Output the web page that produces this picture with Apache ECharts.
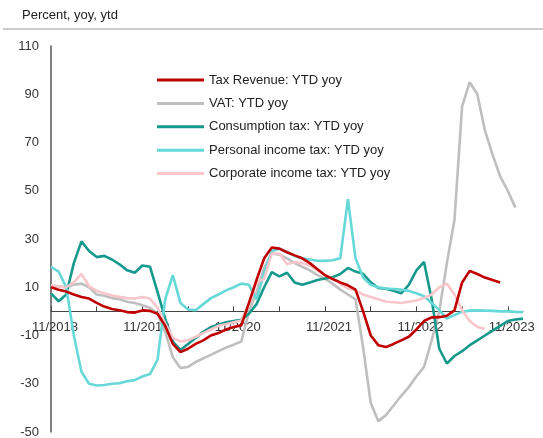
<!DOCTYPE html>
<html>
<head>
<meta charset="utf-8">
<script src="https://cdn.jsdelivr.net/npm/echarts@6/dist/echarts.min.js"></script>
<style>
html,body{margin:0;padding:0;background:#fff;}
#chart{width:543px;height:438px;}
</style>
</head>
<body>
<div id="chart"></div>
<script>
// Monthly categories from 11/2018 to 01/2024
const categories = [];
for (let i = 0; i < 63; i++) {
  const m = ((10 + i) % 12) + 1;
  const y = 2018 + Math.floor((10 + i) / 12);
  categories.push(m + '/' + y);
}
const seriesNames = ['Tax Revenue: YTD yoy', 'VAT: YTD yoy', 'Consumption tax: YTD yoy', 'Personal income tax: YTD yoy', 'Corporate income tax: YTD yoy'];
const yTicks = { min: -50, max: 110, step: 20 };

const taxRevenue = [10, 9, 8.2, 7, 6, 5.3, 3.5, 2, 1, 0.5,
  -0.3, -0.5, 0.4, 0.2, -1, -6, -13.5, -16.9, -15.5, -13.5,
  -12, -10, -9, -7.5, -6.5, -5.8, 3.5, 13, 22, 26.5,
  26, 24.5, 23.2, 22, 20, 17.5, 15, 13.4, 12, 10.8,
  9, 0, -10, -14, -14.8, -13.5, -12, -10.5, -7.5, -4,
  -2.5, -2.4, -1.8, 0.4, 12, 16.8, 15.5, 14, 13, 12];

const vat = [10.8, 10.3, 10, 11, 11.5, 10, 7, 6.5, 5.5, 5,
  4, 3.5, 2.5, 1.5, -1, -8.5, -19, -23.5, -23, -21,
  -19.5, -18, -16.5, -15, -13.8, -12.5, 0, 8, 18, 24,
  23.5, 22, 20, 18.5, 17, 15, 13.5, 11.5, 9, 7,
  5, -15, -38, -45.5, -43, -39, -35, -31.4, -27, -23,
  -12, 0, 20, 38, 85, 95, 90, 75, 65, 56,
  50, 43];

const consumptionTax = [7.5, 4.2, 7, 20, 29, 25, 22.5, 23, 21.5, 19.5,
  17, 16, 19, 18.5, 8, -3, -12.5, -16, -13.5, -11,
  -8.5, -6.5, -5.5, -4.5, -4, -3.5, -1, 3, 10, 16.3,
  14.5, 16, 12, 11, 12, 13, 13.6, 14.2, 15.5, 18,
  16.5, 15.6, 12, 9.7, 9.4, 8.5, 7.5, 11, 17, 20.5,
  5, -15.5, -21.6, -18.5, -16.5, -14, -12, -10, -8, -6,
  -4, -3.4, -3];

const personalIncomeTax = [18.4, 16.5, 10, -10, -25, -30, -30.7, -30.5, -30, -29.8,
  -29, -28.5, -27, -26, -20, 5, 15, 3.5, 0.8, 0.5,
  3, 5.5, 7, 8.7, 10, 11.5, 11, 5, 16, 25,
  26, 24.5, 23, 22, 21.5, 21, 21, 21.2, 22, 46.5,
  22, 14, 11, 10, 9.5, 9.3, 9, 8.5, 7.5, 6.3,
  3.5, 0.5, -3, -1.5, -0.2, 0.3, 0.4, 0.3, 0.2, 0,
  0, -0.2, -0.3];

const corporateIncomeTax = [10.8, 10.3, 10, 12, 15.5, 10.5, 8.5, 7.5, 6.6, 6,
  5.5, 5.3, 5.9, 5.3, 1.5, -5, -11, -12.5, -12, -10.5,
  -9, -7.5, -6, -5.3, -4.5, -3.8, 3, 12, 13.5, 24,
  24, 19.5, 20.5, 20, 19, 17, 15, 13.5, 11.5, 9.5,
  8.7, 7, 6, 5, 4, 3.8, 3.5, 4, 4.5, 5.5,
  7, 10, 11.5, 7, 0.5, -4, -6.5, -7.2];

const colors = ['#c00000', '#bfbfbf', '#16998d', '#66d8d8', '#f8c6cb'];
const allData = [taxRevenue, vat, consumptionTax, personalIncomeTax, corporateIncomeTax];
const zs = [6, 2, 3, 4, 5];

const font = 'Liberation Sans, Arial, sans-serif';
const chart = echarts.init(document.getElementById('chart'), null, { renderer: 'canvas' });

const labelAxisBase = {
  type: 'category',
  data: categories,
  boundaryGap: false,
  position: 'bottom',
  axisLine: { show: false, onZero: false },
  axisTick: { show: false },
  axisLabel: {
    interval: (i) => i % 12 === 0,
    fontSize: 13,
    color: '#333',
    margin: 10,
    padding: [0, 0, 0, 8],
    fontFamily: font
  },
  splitLine: { show: false }
};

chart.setOption({
  animation: false,
  backgroundColor: '#fff',
  textStyle: { fontFamily: font },
  graphic: [
    { type: 'text', left: 22, top: 9, style: { text: 'Percent, yoy, ytd', fontSize: 13, fill: '#222', fontFamily: font } },
    { type: 'line', shape: { x1: 3, y1: 29, x2: 543, y2: 29 }, style: { stroke: '#bdbdbd', lineWidth: 1.5 } }
  ],
  grid: { left: 51, right: 20, top: 46, bottom: 6, containLabel: false, outerBoundsMode: 'none' },
  legend: {
    orient: 'vertical',
    left: 157,
    top: 73,
    padding: 0,
    icon: 'rect',
    itemWidth: 47,
    itemHeight: 3,
    itemGap: 9.4,
    textStyle: { fontSize: 13, color: '#222', lineHeight: 14, fontFamily: font },
    data: seriesNames
  },
  xAxis: [
    {
      type: 'category',
      data: categories,
      boundaryGap: false,
      axisLine: { onZero: true, lineStyle: { color: '#444', width: 1 } },
      axisTick: { show: true, inside: true, length: 5, interval: (i) => i % 6 === 0, lineStyle: { color: '#444' } },
      axisLabel: { show: false },
      splitLine: { show: false }
    },
    Object.assign({}, labelAxisBase, { offset: 0 })
  ],
  yAxis: {
    type: 'value',
    min: yTicks.min,
    max: yTicks.max,
    interval: yTicks.step,
    axisLine: { show: true, lineStyle: { color: '#555', width: 1.5 } },
    axisTick: { show: false },
    axisLabel: { fontSize: 13, color: '#333', margin: 12, fontFamily: font },
    splitLine: { show: false }
  },
  series: seriesNames.map((name, k) => ({
    name: name,
    type: 'line',
    xAxisIndex: 0,
    data: allData[k],
    showSymbol: false,
    symbol: 'none',
    smooth: false,
    z: zs[k],
    color: colors[k],
    lineStyle: { color: colors[k], width: 2.6 }
  }))
});

// place the label axis at the zero line using the library's own y scale
const zeroPx = chart.convertToPixel({ yAxisIndex: 0 }, 0);
const bottomPx = chart.convertToPixel({ yAxisIndex: 0 }, yTicks.min);
chart.setOption({ xAxis: [{}, { offset: -(bottomPx - zeroPx) }] });
</script>
</body>
</html>
